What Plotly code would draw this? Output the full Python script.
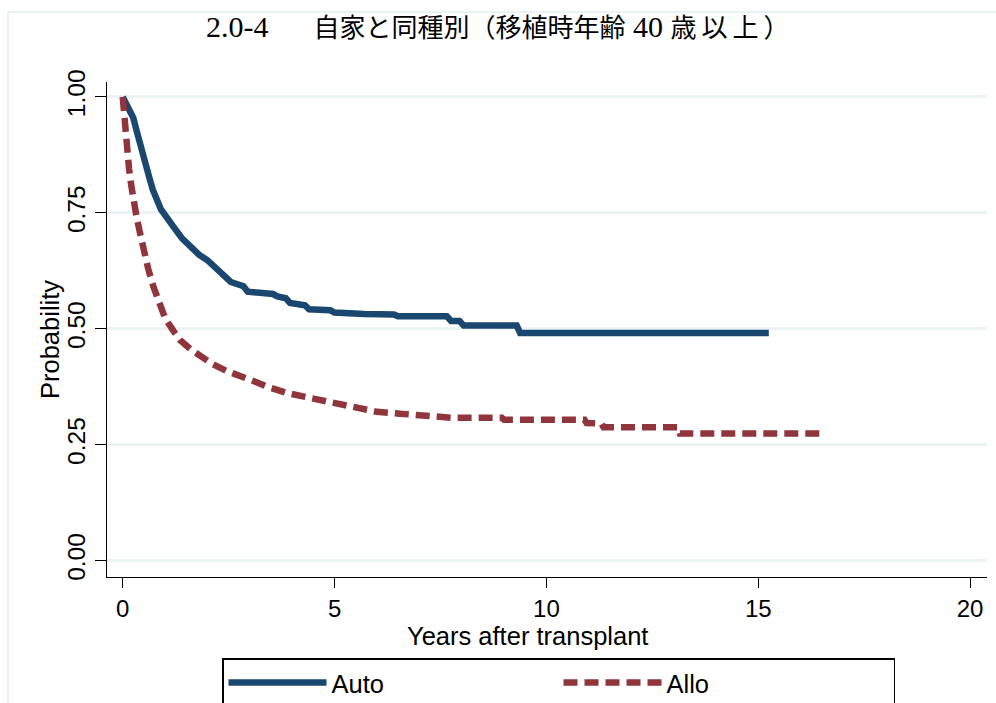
import plotly.graph_objects as go

# ---- data ----
auto_t = [0, 0.08, 0.17, 0.25, 0.32, 0.4, 0.48, 0.56, 0.64, 0.71, 0.8, 0.9, 1.0, 1.1, 1.2,
          1.4, 1.6, 1.8, 2.0, 2.2, 2.4, 2.55, 2.85, 2.95, 3.55, 3.65, 3.85, 3.95, 4.3, 4.4,
          4.9, 5.0, 5.7, 6.4, 6.5, 7.65, 7.75, 7.95, 8.05, 9.3, 9.38, 15.25]
auto_s = [1.0, 0.985, 0.972, 0.955, 0.93, 0.90, 0.875, 0.85, 0.822, 0.80, 0.78, 0.758, 0.745, 0.73, 0.72,
          0.695, 0.675, 0.66, 0.648, 0.632, 0.615, 0.601, 0.592, 0.580, 0.575, 0.570, 0.566, 0.556, 0.551, 0.542,
          0.540, 0.535, 0.532, 0.531, 0.527, 0.527, 0.517, 0.517, 0.507, 0.507, 0.491, 0.491]

allo_t = [0, 0.05, 0.1, 0.15, 0.2, 0.25, 0.32, 0.4, 0.48, 0.6, 0.72, 0.85, 1.0, 1.2, 1.35, 1.6,
          1.82, 2.1, 2.45, 2.84, 3.1, 3.39, 3.86, 4.42, 4.97, 5.3, 5.6, 6.0, 6.54, 7.32, 7.8,
          8.95, 9.0, 10.9, 10.95, 11.3, 11.35, 13.1, 13.15, 16.55]
allo_s = [1.0, 0.94, 0.89, 0.845, 0.81, 0.775, 0.745, 0.71, 0.675, 0.63, 0.592, 0.555, 0.523, 0.495, 0.476, 0.456,
          0.441, 0.425, 0.409, 0.397, 0.387, 0.376, 0.362, 0.351, 0.340, 0.333, 0.326, 0.321, 0.317, 0.311, 0.308,
          0.308, 0.304, 0.304, 0.297, 0.296, 0.288, 0.288, 0.274, 0.274]

series_names = ["Auto", "Allo"]
x_ticks = [0, 5, 10, 15, 20]
y_ticks = [0, 0.25, 0.5, 0.75, 1.0]
y_ticklabels = ["0.00", "0.25", "0.50", "0.75", "1.00"]

x_title = "Years after transplant"
y_title = "Probability"

AUTO_COLOR = "#1a476f"
ALLO_COLOR = "#90353b"
GRID_COLOR = "#eaf2f3"
FONT = "Liberation Sans, Arial, Helvetica, sans-serif"
SERIF = "Liberation Serif"

# title: Latin parts in serif, Japanese parts in CJK font
title_text = (
    f"<span style='font-family:{SERIF};font-size:30px'>2.0-4\u2003\u2002</span>"
    "自家と同種別（移植時年齢"
    f"<span style='font-family:{SERIF};font-size:30px'> 40 </span>"
    "<span style='letter-spacing:5px'>歳以上</span>）"
)

fig = go.Figure()
fig.add_trace(go.Scatter(x=auto_t, y=auto_s, mode="lines", name=series_names[0],
                         line=dict(color=AUTO_COLOR, width=6.5)))
fig.add_trace(go.Scatter(x=allo_t, y=allo_s, mode="lines", name=series_names[1],
                         line=dict(color=ALLO_COLOR, width=6.5, dash="14px,7px")))

W, H = 996, 703
L, R, T, B = 107, 9, 82, 126
pw, ph = W - L - R, H - T - B

fig.update_layout(
    width=W, height=H,
    margin=dict(l=L, r=R, t=T, b=B, autoexpand=False),
    paper_bgcolor="white", plot_bgcolor="white",
    font=dict(family=FONT, size=24, color="black"),
    title=dict(text=title_text, x=206 / W, xref="container", xanchor="left",
               y=1 - 28 / H, yref="container", yanchor="middle",
               font=dict(family="Noto Sans CJK JP, sans-serif", size=26, color="black")),
    showlegend=True,
    legend=dict(orientation="h", x=(222 - L) / pw, xanchor="left",
                y=(H - B - 658) / ph, yanchor="top",
                bordercolor="black", borderwidth=1.5, bgcolor="white",
                font=dict(family=FONT, size=25.5, color="black"),
                itemwidth=98, entrywidth=222, entrywidthmode="pixels",
                tracegroupgap=0),
    xaxis=dict(range=[-0.371, 20.40], tickvals=x_ticks, showgrid=False, zeroline=False,
               showline=True, linecolor="black", linewidth=1.3,
               ticks="outside", ticklen=10, tickwidth=1.3, tickcolor="black",
               tickfont=dict(size=24), ticklabelstandoff=0),
    yaxis=dict(range=[-0.0352, 1.0323], tickvals=y_ticks, ticktext=y_ticklabels,
               tickangle=-90, showgrid=True, gridcolor=GRID_COLOR, gridwidth=2.5, zeroline=False,
               showline=True, linecolor="black", linewidth=1.3,
               ticks="outside", ticklen=11, tickwidth=1.3, tickcolor="black",
               tickfont=dict(size=24.5)),
    annotations=[
        dict(text=x_title, xref="paper", yref="paper", x=(527.5 - L) / pw, y=(H - B - 636) / ph,
             xanchor="center", yanchor="middle", showarrow=False, font=dict(size=25.5)),
        dict(text=y_title, xref="paper", yref="paper", x=(50 - L) / pw, y=(H - B - 340) / ph,
             xanchor="center", yanchor="middle", showarrow=False, textangle=-90,
             font=dict(size=25.5)),
    ],
)

# light outer graph-region border (top and left), as in the reference
fig.add_shape(type="line", xref="paper", yref="paper",
              x0=(8 - L) / pw, x1=(W - L) / pw, y0=(H - B - 12) / ph, y1=(H - B - 12) / ph,
              line=dict(color=GRID_COLOR, width=2))
fig.add_shape(type="line", xref="paper", yref="paper",
              x0=(8 - L) / pw, x1=(8 - L) / pw, y0=(H - B - 12) / ph, y1=(H - B - H) / ph,
              line=dict(color=GRID_COLOR, width=2))

fig.write_html("out.html", config={"displayModeBar": False},
               post_script="document.body.style.margin='0';document.body.style.overflow='hidden';")
